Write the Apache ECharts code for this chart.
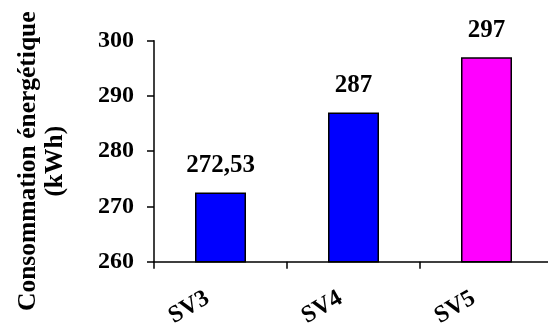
<!DOCTYPE html>
<html><head><meta charset="utf-8">
<script src="https://cdn.jsdelivr.net/npm/echarts@6/dist/echarts.min.js"></script>
<style>html,body{margin:0;padding:0;background:#fff}#c{width:548px;height:327px}</style>
</head><body><div id="c"></div>
<script>
const categories = ['SV3', 'SV4', 'SV5'];
const values = [272.53, 287, 297];
const barColors = ['#0000FF', '#0000FF', '#FF00FF'];
const yTicks = [260, 270, 280, 290, 300];
const yTitle = 'Consommation énergétique\n(kWh)';

const FONT = '"Liberation Serif", "Times New Roman", serif';
const chart = echarts.init(document.getElementById('c'), null, {renderer: 'canvas'});
chart.setOption({
  animation: false,
  grid: {left: 154, right: -5, top: 40.7, bottom: 65.3, containLabel: false, outerBoundsMode: 'none'},
  xAxis: {
    type: 'category', data: categories,
    axisLine: {lineStyle: {color: '#000', width: 1.5}},
    axisTick: {show: true, length: 7, lineStyle: {color: '#000', width: 1.5}},
    axisLabel: {rotate: 30, margin: 27.5, padding: [0, 15, 0, 0], color: '#000', fontFamily: FONT, fontWeight: 'bold', fontSize: 24}
  },
  yAxis: {
    type: 'value', min: yTicks[0], max: yTicks[yTicks.length - 1], interval: 10,
    name: yTitle, nameLocation: 'middle', nameGap: 85, nameRotate: 90,
    nameTextStyle: {color: '#000', fontFamily: FONT, fontWeight: 'bold', fontSize: 25.5, lineHeight: 27, align: 'center', padding: [0, 20, 0, 0]},
    splitLine: {show: false},
    axisLine: {show: true, lineStyle: {color: '#000', width: 1.5}},
    axisTick: {show: true, length: 7, lineStyle: {color: '#000', width: 1.5}},
    axisLabel: {margin: 20, color: '#000', fontFamily: FONT, fontWeight: 'bold', fontSize: 24}
  },
  series: [{
    type: 'bar', barWidth: 51,
    data: values.map((v, i) => ({value: v, itemStyle: {color: barColors[i]}})),
    itemStyle: {borderColor: '#000', borderWidth: 1.5},
    label: {show: true, position: 'top', distance: 14, color: '#000', fontFamily: FONT, fontWeight: 'bold', fontSize: 25,
      formatter: p => String(p.value).replace('.', ',')}
  }]
});
</script></body></html>
